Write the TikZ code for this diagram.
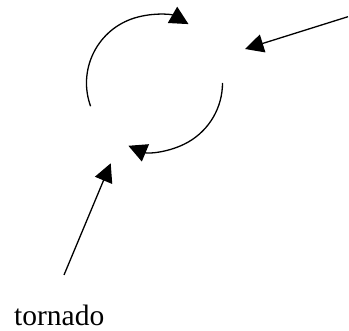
\documentclass[tikz,border=0pt]{standalone}
\usepackage{fontspec}
\setmainfont{Liberation Serif}
\usetikzlibrary{arrows.meta,calc}
\begin{document}
\begin{tikzpicture}[x=1pt,y=1pt,
  arr/.style={line width=1.3pt, -{Triangle[length=18.5pt,width=18.5pt]}},
  lbl/.style={inner sep=0pt, anchor=base west, font=\fontsize{29.5}{33}\selectfont}]
\useasboundingbox (0,0) rectangle (349,-331);
\coordinate (c) at (154.5,-83);
\coordinate (a1s) at ($(c)+(200:68)$);
\coordinate (a2s) at ($(c)+(0:68)$);
\draw[arr] (a1s) arc[start angle=200, end angle=60, radius=68];
\draw[arr] (a2s) arc[start angle=0, end angle=-112.6, radius=68];
\coordinate (p1) at (348,-16.7);
\coordinate (p2) at (245,-49);
\draw[arr] (p1) -- (p2);
\node[lbl] (t) at (14,-326) {tornado};
\coordinate (q1) at (64,-275);
\coordinate (q2) at (110.7,-163.3);
\draw[arr] (q1) -- (q2);
\end{tikzpicture}
\end{document}
